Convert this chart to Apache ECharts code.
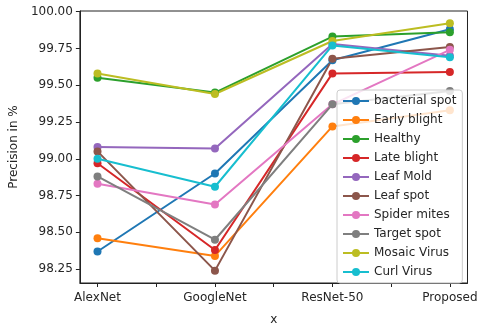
<!DOCTYPE html>
<html>
<head>
<meta charset="utf-8">
<script src="https://cdn.jsdelivr.net/npm/echarts@6/dist/echarts.min.js"></script>
<style>
  html, body { margin: 0; padding: 0; background: #fff; }
  #chart { width: 480px; height: 331px; }
</style>
</head>
<body>
<div id="chart"></div>
<script>
// 横轴的模型名
const models = ["AlexNet", "GoogleNet", "ResNet-50", "Proposed"];
// 纵轴刻度
const yTicks = [98.25, 98.5, 98.75, 99.0, 99.25, 99.5, 99.75, 100.0];

// 每个类别的精度 (%)
const bacterialSpot = [98.37, 98.90, 99.67, 99.88];
const earlyBlight   = [98.46, 98.34, 99.22, 99.33];
const healthy       = [99.55, 99.45, 99.83, 99.86];
const lateBlight    = [98.97, 98.38, 99.58, 99.59];
const leafMold      = [99.08, 99.07, 99.78, 99.70];
const leafSpot      = [99.05, 98.24, 99.68, 99.76];
const spiderMites   = [98.83, 98.69, 99.37, 99.74];
const targetSpot    = [98.88, 98.45, 99.37, 99.46];
const mosaicVirus   = [99.58, 99.44, 99.80, 99.92];
const curlVirus     = [99.00, 98.81, 99.77, 99.69];

const seriesNames = ["bacterial spot", "Early blight", "Healthy", "Late blight", "Leaf Mold",
  "Leaf spot", "Spider mites", "Target spot", "Mosaic Virus", "Curl Virus"];
const seriesData = [bacterialSpot, earlyBlight, healthy, lateBlight, leafMold,
  leafSpot, spiderMites, targetSpot, mosaicVirus, curlVirus];
// matplotlib 默认配色
const colors = ["#1f77b4", "#ff7f0e", "#2ca02c", "#d62728", "#9467bd",
  "#8c564b", "#e377c2", "#7f7f7f", "#bcbd22", "#17becf"];

const font = "DejaVu Sans";
const textColor = "#262626";

const option = {
  animation: false,
  color: colors,
  grid: {
    left: 69, right: 11, top: 11, bottom: 41,
    show: true, borderColor: "#222", borderWidth: 1
  },
  xAxis: {
    type: "value",
    min: -0.15,
    max: 3.15,
    name: "x",
    nameLocation: "middle",
    nameGap: 31,
    nameTextStyle: { fontFamily: font, fontSize: 12, color: textColor },
    axisLine: { show: true, onZero: false, lineStyle: { color: "#222", width: 1 } },
    axisTick: {
      show: true, length: 4, inside: false,
      lineStyle: { color: "#222" },
      customValues: [0, 0.5, 1, 1.5, 2, 2.5, 3]
    },
    axisLabel: {
      fontFamily: font, fontSize: 12, color: textColor, margin: 9,
      customValues: models.map((m, i) => i),
      formatter: v => models[Math.round(v)]
    },
    splitLine: { show: false }
  },
  yAxis: {
    type: "value",
    min: 98.156,
    max: 100.004,
    name: "Precision in %",
    nameLocation: "middle",
    nameGap: 56,
    nameTextStyle: { fontFamily: font, fontSize: 12, color: textColor },
    axisLine: { show: true, onZero: false, lineStyle: { color: "#222", width: 1 } },
    axisTick: {
      show: true, length: 4,
      lineStyle: { color: "#222" },
      customValues: yTicks
    },
    axisLabel: {
      fontFamily: font, fontSize: 12, color: textColor, margin: 7,
      customValues: yTicks,
      formatter: v => v.toFixed(2)
    },
    splitLine: { show: false }
  },
  legend: {
    orient: "vertical",
    left: 337,
    top: 90,
    padding: [5, 6, 5, 5],
    itemWidth: 26,
    itemHeight: 10,
    itemGap: 7,
    backgroundColor: "rgba(255,255,255,0.8)",
    borderColor: "#cccccc",
    borderWidth: 1,
    borderRadius: 3,
    textStyle: { fontFamily: font, fontSize: 12, color: textColor },
    data: seriesNames
  },
  series: seriesNames.map((name, i) => ({
    name: name,
    type: "line",
    data: seriesData[i].map((v, j) => [j, v]),
    symbol: "circle",
    symbolSize: 8,
    lineStyle: { width: 2 },
    itemStyle: { color: colors[i] }
  }))
};

const myChart = echarts.init(document.getElementById("chart"));
myChart.setOption(option);
</script>
</body>
</html>
